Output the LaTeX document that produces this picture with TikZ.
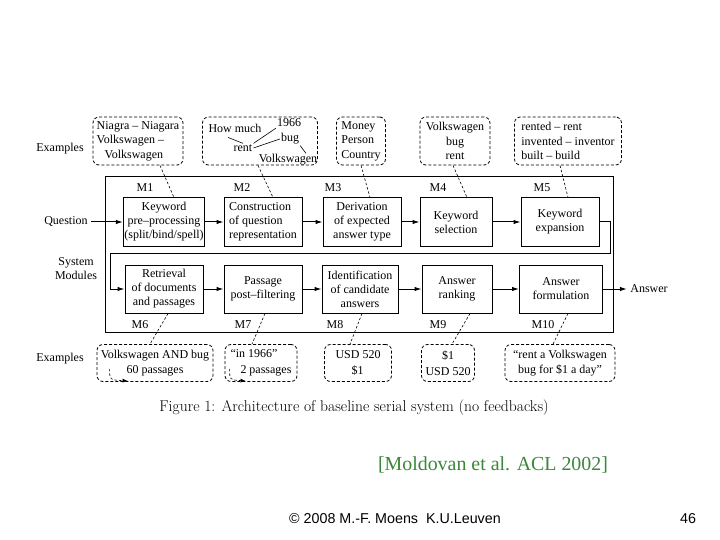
\documentclass[tikz,border=0pt]{standalone}
\usepackage{fontspec}
\usetikzlibrary{arrows.meta}
\newfontfamily\tms[Ligatures=TeX]{Liberation Serif}
\newfontfamily\arl{Liberation Sans}
\definecolor{citegreen}{RGB}{58,135,58}

\begin{document}
\begin{tikzpicture}[x=1pt,y=-1pt,font=\tms\fontsize{12}{14}\selectfont]
        \tikzstyle{module}=[draw,line width=1pt,align=center,minimum width=78pt,minimum height=48pt,inner sep=1pt]
        \tikzstyle{example}=[draw,dash pattern=on 3pt off 2pt,line width=0.8pt,rounded corners=6pt,minimum height=48pt,inner sep=1.5pt,align=center,font=\tms\fontsize{12}{14.5}\selectfont]
        \tikzstyle{link}=[dash pattern=on 2.5pt off 2pt,line width=0.6pt]
        \tikzstyle{flow}=[-{Latex[length=7pt,width=4.5pt]},line width=1pt]
        \tikzstyle{word}=[inner sep=1pt]
        \useasboundingbox (0,0) rectangle (720,540);
        \draw[line width=1pt] (105,177) rectangle (613,332);
        \node[module] (m1) at (164,222) {Keyword\\pre--processing\\(split/bind/spell)};
        \node[module,align=left] (m2) at (263,222) {Construction\\of question\\representation};
        \node[module] (m3) at (362,222) {Derivation\\of expected\\answer type};
        \node[module,minimum width=72pt] (m4) at (456,222) {Keyword\\selection};
        \node[module] (m5) at (560,222) {Keyword\\expansion};
        \node[module] (m6) at (164,289) {Retrieval\\of documents\\and passages};
        \node[module] (m7) at (263,289) {Passage\\post--filtering};
        \node[module,minimum width=76pt] (m8) at (360,289) {Identification\\of candidate\\answers};
        \node[module,minimum width=70pt] (m9) at (457,289) {Answer\\ranking};
        \node[module,minimum width=83pt] (m10) at (561,289) {Answer\\formulation};
        \node (l1) at (145,188) {M1};
        \node (l2) at (242,188) {M2};
        \node (l3) at (333,188) {M3};
        \node (l4) at (438,188) {M4};
        \node (l5) at (542,188) {M5};
        \node (l6) at (140,325) {M6};
        \node (l7) at (243,325) {M7};
        \node (l8) at (335,325) {M8};
        \node (l9) at (438,325) {M9};
        \node (l10) at (543,325) {M10};
        \node (q) at (66,222) {Question};
        \node (ans) at (649,289) {Answer};
        \node[align=center] (sys) at (76,269) {System\\Modules};
        \node (ex1) at (60,149) {Examples};
        \node (ex2) at (60,359) {Examples};
        \draw[flow] (q) -- (m1);
        \draw[flow] (m1) -- (m2);
        \draw[flow] (m2) -- (m3);
        \draw[flow] (m3) -- (m4);
        \draw[flow] (m4) -- (m5);
        \draw[flow] (m5.east) -| (610,253) -| (110,289) -- (m6.west);
        \draw[flow] (m6) -- (m7);
        \draw[flow] (m7) -- (m8);
        \draw[flow] (m8) -- (m9);
        \draw[flow] (m9) -- (m10);
        \draw[flow] (m10) -- (ans);
        \node[example,minimum width=90pt,align=left] (e1) at (138,141) {Niagra -- Niagara\\Volkswagen --\\\hspace{8pt}Volkswagen};
        \node[example,minimum width=115pt] (e2) at (260,141) {};
        \node[example,minimum width=49pt,align=left] (e3) at (361,141) {Money\\Person\\Country};
        \node[example,minimum width=70pt] (e4) at (455,141) {Volkswagen\\bug\\rent};
        \node[example,minimum width=107pt,align=left] (e5) at (568,141) {rented -- rent\\invented -- inventor\\built -- build};
        \node[word] (hm) at (235,128) {How much};
        \node[word] (yr) at (289,123) {1966};
        \node[word] (bg) at (290,139) {bug};
        \node[word] (rt) at (243,148) {rent};
        \node[word] (vw) at (288,160) {Volkswagen};
        \draw[line width=0.6pt] ([shift={(-7,4)}]hm.south) -- (rt.north);
        \draw[line width=0.6pt] (yr.south west) -- (rt.north east);
        \draw[line width=0.6pt] (bg.west) -- (rt.east);
        \draw[line width=0.6pt] (bg.south east) -- ([xshift=18pt]vw.north);
        \draw[link] ([xshift=22pt]e1.south) -- ([xshift=10pt]m1.north);
        \draw[link] ([xshift=-2pt]e2.south) -- ([xshift=10pt]m2.north);
        \draw[link] (e3.south) -- ([xshift=8pt]m3.north);
        \draw[link] ([xshift=-2pt]e4.south) -- ([xshift=11pt]m4.north);
        \draw[link] ([xshift=-8pt]e5.south) -- ([xshift=8pt]m5.north);
        \node[example,minimum height=37pt,minimum width=116pt] (b1) at (155,363) {Volkswagen AND bug\\[1pt]60 passages};
        \node[example,minimum height=37pt,minimum width=72pt,align=left] (b2) at (261,363) {``in 1966''\\[1pt]\hspace{10pt}2 passages};
        \node[example,minimum height=37pt,minimum width=67pt,align=left] (b3) at (358,363) {USD 520\\[1pt]\hspace{16pt}\$1};
        \node[example,minimum height=37pt,minimum width=53pt] (b4) at (448,363) {\$1\\[1pt]USD 520};
        \node[example,minimum height=37pt,minimum width=110pt] (b5) at (560,363) {``rent a Volkswagen\\[1pt]bug for \$1 a day''};
        \draw[link] ([xshift=4pt]m6.south) -- ([xshift=-5pt]b1.north);
        \draw[link] ([xshift=2pt]m7.south) -- ([xshift=-9pt]b2.north);
        \draw[link] ([xshift=2pt]m8.south) -- ([xshift=-8pt]b3.north);
        \draw[link] ([xshift=13pt]m9.south) -- ([xshift=4pt]b4.north);
        \draw[link] ([xshift=7pt]m10.south) -- ([xshift=-7pt]b5.north);
        \draw[link,-{Latex[length=5pt,width=4pt]}] ([shift={(13,-13)}]b1.south west) .. controls ([shift={(13,-2)}]b1.south west) .. ([shift={(31,-1)}]b1.south west);
        \draw[link,-{Latex[length=5pt,width=4pt]}] ([shift={(5,-13)}]b2.south west) .. controls ([shift={(5,-2)}]b2.south west) .. ([shift={(21,-1)}]b2.south west);
        \node[font=\rmfamily\fontsize{15.6}{18}\selectfont] (cap) at (354,408) {Figure 1: Architecture of baseline serial system (no feedbacks)};
        \node[text=citegreen,font=\tms\fontsize{19.9}{23}\selectfont] (cite) at (493,465) {[Moldovan et al. ACL 2002]};
        \node[font=\arl\fontsize{14.3}{17}\selectfont] (foot) at (395,519) {\textcopyright\ 2008 M.-F. Moens\ \ K.U.Leuven};
        \node[font=\arl\fontsize{14.3}{17}\selectfont] (page) at (688,519) {46};
    \end{tikzpicture}
\end{document}
